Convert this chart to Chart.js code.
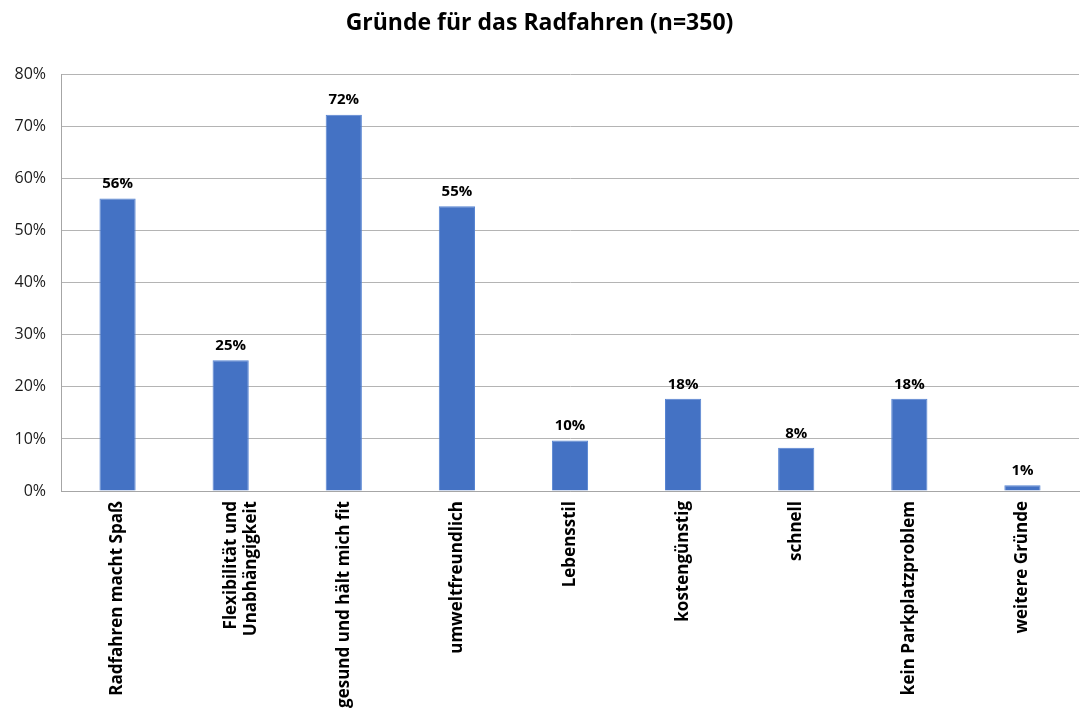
<!DOCTYPE html>
<html>
<head>
<meta charset="utf-8">
<script src="https://cdn.jsdelivr.net/npm/chart.js@4.4.0/dist/chart.umd.min.js"></script>
<style>
  html, body { margin: 0; padding: 0; background: #fff; }
  #wrap { width: 1081px; height: 725px; }
</style>
</head>
<body>
<div id="wrap"><canvas id="c"></canvas></div>
<script>
var categories = [
  "Radfahren macht Spaß",
  ["Flexibilität und", "Unabhängigkeit"],
  "gesund und hält mich fit",
  "umweltfreundlich",
  "Lebensstil",
  "kostengünstig",
  "schnell",
  "kein Parkplatzproblem",
  "weitere Gründe"
];
var values = [56.2, 25.1, 72.3, 54.7, 9.7, 17.7, 8.3, 17.7, 1.1];
var valueLabels = ["56%", "25%", "72%", "55%", "10%", "18%", "8%", "18%", "1%"];
var chartTitle = "Gründe für das Radfahren (n=350)";

var FONT = "'Open Sans', 'Liberation Sans', sans-serif";

// draws the bold percentage above each bar
var barLabels = {
  id: 'barLabels',
  afterDatasetsDraw: function (chart) {
    var ctx = chart.ctx;
    var meta = chart.getDatasetMeta(0);
    ctx.save();
    ctx.font = "bold 15px " + FONT;
    ctx.fillStyle = "#000";
    ctx.textAlign = "center";
    ctx.textBaseline = "bottom";
    meta.data.forEach(function (bar, i) {
      ctx.fillText(valueLabels[i], bar.x, bar.y - 7);
    });
    ctx.restore();
  }
};

new Chart(document.getElementById("c"), {
  type: 'bar',
  data: {
    labels: categories,
    datasets: [{
      data: values,
      backgroundColor: "#4472C4",
      borderColor: "#5583D2",
      borderWidth: 1,
      categoryPercentage: 1.0,
      barPercentage: 0.32
    }]
  },
  options: {
    responsive: true,
    maintainAspectRatio: false,
    animation: false,
    layout: { padding: { left: 0, right: 2, top: 0, bottom: 0 } },
    plugins: {
      legend: { display: false },
      tooltip: { enabled: false },
      title: {
        display: true,
        text: chartTitle,
        color: "#000",
        font: { family: FONT, size: 23, weight: 'bold' },
        padding: { top: 10, bottom: 37 }
      }
    },
    scales: {
      x: {
        grid: { display: false, drawTicks: false },
        border: { color: "#a6a6a6", width: 1 },
        ticks: {
          color: "#000",
          font: { family: FONT, size: 17, weight: 'bold' },
          minRotation: 90,
          maxRotation: 90,
          autoSkip: false,
          padding: 10
        },
        afterFit: function (scale) { scale.height = 234; }
      },
      y: {
        min: 0,
        max: 80,
        grid: { color: "#b4b4b4", lineWidth: 1, drawTicks: false },
        border: { color: "#a6a6a6", width: 1 },
        ticks: {
          stepSize: 10,
          color: "#1a1a1a",
          font: { family: FONT, size: 16 },
          padding: 15,
          callback: function (v) { return v + "%"; }
        },
        afterFit: function (scale) { scale.width = 61; }
      }
    }
  },
  plugins: [barLabels]
});
</script>
</body>
</html>
